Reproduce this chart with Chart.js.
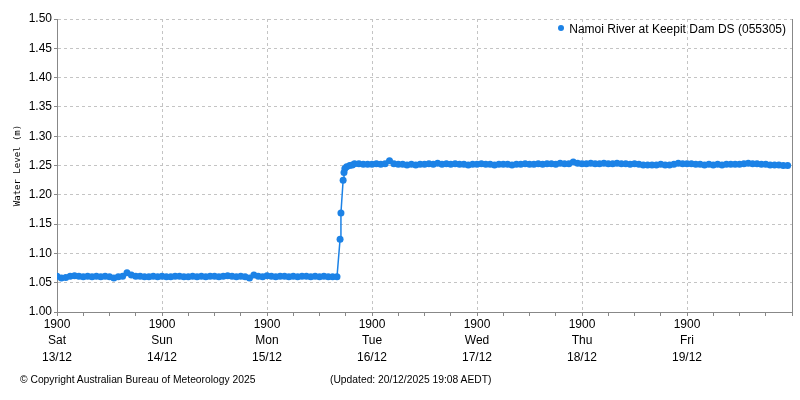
<!DOCTYPE html>
<html>
<head>
<meta charset="utf-8">
<title>Namoi River at Keepit Dam DS (055305)</title>
<script src="https://cdn.jsdelivr.net/npm/chart.js@4.4.1/dist/chart.umd.min.js"></script>
<style>
  html, body { margin: 0; padding: 0; background: #fff; }
  #wrap { position: relative; width: 800px; height: 400px; }
  .foot { position: absolute; top: 374px; font: 10.3px "Liberation Sans", Arial, sans-serif; color: #000; white-space: nowrap; }
  #legend { position: absolute; top: 22px; right: 14px; font: 12px "Liberation Sans", Arial, sans-serif; color: #000; white-space: nowrap; }
  #legend i { display: inline-block; width: 6px; height: 6px; border-radius: 50%; margin-right: 5px; vertical-align: 2px; }
</style>
</head>
<body>
<div id="wrap">
  <canvas id="levelChart"></canvas>
  <div id="legend"></div>
  <div class="foot" style="left:20px;">© Copyright Australian Bureau of Meteorology 2025</div>
  <div class="foot" style="left:330px;">(Updated: 20/12/2025 19:08 AEDT)</div>
</div>
<script>
// Hours after Sat 13/12 19:00; hourly readings before and after the rise.
var seriesName = 'Namoi River at Keepit Dam DS (055305)';
var tickTime = '1900';
var dayNames = ['Sat', 'Sun', 'Mon', 'Tue', 'Wed', 'Thu', 'Fri'];
var dayDates = ['13/12', '14/12', '15/12', '16/12', '17/12', '18/12', '19/12'];
var yTicks = [1.00, 1.05, 1.10, 1.15, 1.20, 1.25, 1.30, 1.35, 1.40, 1.45, 1.50];

// hours 0..64
var lowLevels = [
  1.061, 1.058, 1.059, 1.061, 1.062, 1.061, 1.060, 1.061, 1.060, 1.061,
  1.060, 1.061, 1.060, 1.058, 1.060, 1.061, 1.067, 1.063, 1.061, 1.061,
  1.060, 1.060, 1.061, 1.060, 1.061, 1.060, 1.060, 1.061, 1.061, 1.060,
  1.060, 1.061, 1.060, 1.061, 1.060, 1.061, 1.061, 1.060, 1.061, 1.062,
  1.061, 1.060, 1.061, 1.060, 1.058, 1.063, 1.061, 1.060, 1.062, 1.061,
  1.060, 1.061, 1.061, 1.060, 1.061, 1.060, 1.061, 1.061, 1.060, 1.061,
  1.060, 1.061, 1.060, 1.060, 1.060
];
// the step on Tue morning
var riseHours = [64.7, 64.9, 65.4, 65.6, 65.8, 66.2, 66.9, 67.5];
var riseLevels = [1.124, 1.169, 1.225, 1.238, 1.245, 1.248, 1.250, 1.251];
// hours 68..167
var highLevels = [
  1.253, 1.253, 1.252, 1.252, 1.252, 1.253, 1.252, 1.253, 1.258, 1.253,
  1.252, 1.252, 1.251, 1.252, 1.251, 1.252, 1.252, 1.253, 1.252, 1.254,
  1.252, 1.253, 1.252, 1.253, 1.252, 1.252, 1.251, 1.252, 1.252, 1.253,
  1.252, 1.252, 1.251, 1.252, 1.252, 1.252, 1.251, 1.252, 1.252, 1.253,
  1.252, 1.252, 1.253, 1.252, 1.253, 1.253, 1.252, 1.254, 1.253, 1.253,
  1.256, 1.254, 1.253, 1.253, 1.254, 1.253, 1.253, 1.254, 1.253, 1.253,
  1.254, 1.253, 1.253, 1.252, 1.253, 1.252, 1.251, 1.251, 1.251, 1.251,
  1.252, 1.251, 1.251, 1.252, 1.254, 1.253, 1.253, 1.253, 1.252, 1.252,
  1.251, 1.252, 1.251, 1.252, 1.251, 1.252, 1.252, 1.252, 1.252, 1.253,
  1.254, 1.253, 1.253, 1.252, 1.252, 1.251, 1.251, 1.251, 1.250, 1.250
];
var highStart = 68;

(function () {
    'use strict';

    var BLUE = '#1c82e6';
    var GRID = '#c4c4c4';
    var AXIS = '#888888';
    var FONT = '"Liberation Sans", Arial, sans-serif';

    function buildPoints() {
        var pts = [];
        lowLevels.forEach(function (v, i) { pts.push({ x: i, y: v }); });
        riseLevels.forEach(function (v, i) { pts.push({ x: riseHours[i], y: v }); });
        highLevels.forEach(function (v, i) { pts.push({ x: highStart + i, y: v }); });
        return pts;
    }

    function renderLegend() {
        var box = document.getElementById('legend');
        var dot = document.createElement('i');
        dot.style.background = BLUE;
        box.appendChild(dot);
        box.appendChild(document.createTextNode(seriesName));
    }

    var el = document.getElementById('levelChart');
    new Chart(el, {
        type: 'line',
        data: {
            datasets: [{
                label: seriesName,
                data: buildPoints(),
                borderColor: BLUE,
                backgroundColor: BLUE,
                borderWidth: 1.5,
                pointRadius: 3.5,
                pointBorderWidth: 0,
                pointHoverRadius: 3.5,
                tension: 0,
                fill: false,
            }],
        },
        options: {
            responsive: true,
            maintainAspectRatio: false,
            animation: false,
            layout: { padding: { left: 5, top: 19, right: 8, bottom: 30 } },
            plugins: {
                tooltip: { enabled: false },
                legend: { display: false },
            },
            scales: {
                x: {
                    type: 'linear',
                    min: 0,
                    max: 168,
                    afterFit: function (s) { s.height = 58; },
                    ticks: {
                        stepSize: 6,
                        autoSkip: false,
                        maxRotation: 0,
                        padding: 1,
                        color: '#000',
                        font: { family: FONT, size: 12, lineHeight: 1.34 },
                        callback: function (v) {
                            if (v % 24 !== 0) return '';
                            var i = v / 24;
                            if (i >= dayNames.length) return '';
                            return [tickTime, dayNames[i], dayDates[i]];
                        },
                    },
                    grid: {
                        color: function (ctx) {
                            return ctx.tick && ctx.tick.value % 24 === 0 ? GRID : 'rgba(0,0,0,0)';
                        },
                        tickColor: AXIS,
                        tickLength: 4,
                        tickBorderDash: [],
                    },
                    border: { color: AXIS, width: 1, dash: [3, 3] },
                },
                y: {
                    min: yTicks[0],
                    max: yTicks[yTicks.length - 1],
                    afterFit: function (s) { s.width = 52; },
                    afterBuildTicks: function (s) {
                        s.ticks = yTicks.map(function (v) { return { value: v }; });
                    },
                    ticks: {
                        padding: 2,
                        color: '#000',
                        font: { family: FONT, size: 12 },
                        callback: function (v) { return Number(v).toFixed(2); },
                    },
                    grid: {
                        color: GRID,
                        tickColor: AXIS,
                        tickLength: 3,
                        tickBorderDash: [],
                    },
                    border: { color: AXIS, width: 1, dash: [3, 3] },
                    title: {
                        display: true,
                        text: 'Water Level (m)',
                        color: '#000',
                        font: { family: '"DejaVu Sans Mono", monospace', size: 9 },
                        padding: { top: 7, bottom: 0 },
                    },
                },
                yRight: {
                    position: 'right',
                    min: yTicks[0],
                    max: yTicks[yTicks.length - 1],
                    afterFit: function (s) { s.width = 0; },
                    ticks: { display: false },
                    grid: { display: false, drawTicks: false },
                    border: { display: true, color: AXIS, width: 1 },
                },
            },
        },
    });

    renderLegend();
})();
</script>
</body>
</html>
